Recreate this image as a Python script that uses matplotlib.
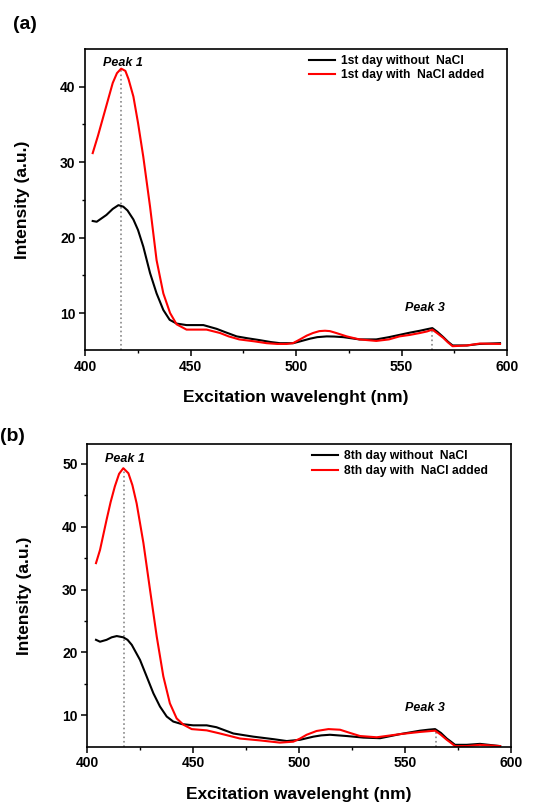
import matplotlib.pyplot as plt
import numpy as np

plt.rcParams['font.family'] = ['Liberation Sans', 'DejaVu Sans']
plt.rcParams['font.weight'] = 'bold'

# panel (a): 1st day
wl_a_black = [403.5, 405.4, 410, 413, 415.7, 418, 420, 422.8, 425, 427.5, 430.7, 433.8, 437, 440, 443.3,
              448, 456, 462.3, 466, 471.8, 477, 482.8, 488, 492.3, 498.6, 502, 506.6, 510, 514.5, 518,
              522.4, 530, 538, 544, 549, 554, 558.7, 562, 564.6, 567, 569.8, 572, 574.2, 581, 587, 596.7]
int_a_black = [22.2, 22.1, 23.0, 23.8, 24.3, 24.1, 23.6, 22.4, 21.0, 18.8, 15.3, 12.6, 10.4, 9.1, 8.6,
               8.4, 8.4, 7.9, 7.5, 6.9, 6.65, 6.4, 6.15, 6.0, 6.0, 6.25, 6.6, 6.8, 6.9, 6.88,
               6.8, 6.5, 6.5, 6.8, 7.1, 7.4, 7.65, 7.85, 8.0, 7.5, 6.8, 6.2, 5.7, 5.7, 5.9, 6.0]

wl_a_red = [403.5, 406, 410, 413, 415, 417, 419, 420.5, 422.8, 425, 427.5, 430.7, 433.8, 437, 440.2, 443.3,
            448, 457.5, 463.9, 468, 473, 480, 486, 491, 495.5, 498.5, 501.8, 505, 508, 511, 513.7, 516,
            519, 524, 530, 538, 544, 549, 554, 558.7, 562, 564.6, 567, 569.8, 572, 574.2, 581, 587, 596.7]
int_a_red = [31.2, 33.5, 37.5, 40.5, 41.8, 42.4, 42.1, 41.0, 38.7, 35.2, 30.7, 24.1, 17.0, 12.6, 10.0, 8.5,
             7.8, 7.8, 7.35, 6.9, 6.5, 6.25, 6.0, 5.9, 5.9, 6.0, 6.5, 7.0, 7.35, 7.6, 7.65, 7.6,
             7.35, 6.9, 6.5, 6.3, 6.5, 6.9, 7.1, 7.35, 7.55, 7.8, 7.3, 6.7, 6.1, 5.6, 5.7, 5.95, 5.9]

# panel (b): 8th day
wl_b_black = [404.1, 406, 409.1, 411.5, 413.9, 417, 419, 421, 424.9, 428, 431.2, 434.3, 437.5, 440.6, 444.6,
              450, 456.4, 461, 465, 469, 478.4, 487.9, 494.2, 500.5, 506.8, 510.5, 514.6, 522.5, 530.4,
              538.3, 547.7, 557.2, 561, 564.3, 567, 569.8, 571.8, 573.7, 579.2, 585.5, 595]
int_b_black = [22.0, 21.7, 22.0, 22.4, 22.6, 22.4, 22.0, 21.2, 18.8, 16.2, 13.5, 11.4, 9.8, 9.0, 8.6,
               8.4, 8.4, 8.1, 7.6, 7.1, 6.6, 6.2, 5.9, 6.1, 6.6, 6.8, 6.9, 6.7, 6.45,
               6.35, 7.0, 7.55, 7.7, 7.8, 7.2, 6.3, 5.8, 5.3, 5.3, 5.45, 5.1]

wl_b_red = [404.1, 406, 409.1, 411, 413, 415, 417, 419.4, 421.3, 423.3, 426.5, 429.6, 432.8, 435.9, 439, 442.2,
            445.4, 449.3, 456.4, 462.7, 472.1, 481.6, 491, 497.3, 500.5, 503.6, 508.3, 513.9, 519.4, 524,
            528.8, 536.7, 547.7, 557.2, 564.3, 567, 569.8, 571.8, 573.7, 579.2, 585.5, 595]
int_b_red = [34.2, 36.3, 41.1, 43.9, 46.4, 48.4, 49.3, 48.5, 46.6, 43.7, 37.4, 30.0, 22.5, 16.2, 11.9, 9.5,
             8.5, 7.8, 7.6, 7.1, 6.3, 6.0, 5.65, 5.8, 6.3, 6.9, 7.5, 7.8, 7.7, 7.2,
             6.7, 6.5, 7.0, 7.35, 7.55, 6.9, 6.1, 5.6, 5.1, 5.1, 5.3, 5.1]

peak1_a, peak3_a = 417, 564.6
peak1_b, peak3_b = 417.5, 564.7

fig = plt.figure(figsize=(5.39, 8.09), dpi=100)
ax_a = fig.add_axes([0.1583, 0.5674, 0.7823, 0.372])
ax_b = fig.add_axes([0.162, 0.077, 0.7855, 0.3738])

panels = [
    (ax_a, wl_a_black, int_a_black, wl_a_red, int_a_red, '1st day', (5.1, 45), [10, 20, 30, 40],
     peak1_a, 42.4, peak3_a, 8.0, (418, 43.1), (561, 10.7), '(a)', 0.024, 0.0306),
    (ax_b, wl_b_black, int_b_black, wl_b_red, int_b_red, '8th day', (5.0, 53.1), [10, 20, 30, 40, 50],
     peak1_b, 49.3, peak3_b, 7.8, (418, 50.8), (559.5, 11.1), '(b)', 0.0, 0.54),
]

for (ax, xb, yb, xr, yr, day, ylim, yt, p1, p1y, p3, p3y, t1, t3, tag, tagx, tagy) in panels:
    ax.plot([p1, p1], [ylim[0], p1y], color='#888888', ls=':', lw=1.2)
    ax.plot([p3, p3], [ylim[0], p3y], color='#888888', ls=':', lw=1.2)
    ax.plot(xb, yb, color='black', lw=1.5, label=day + ' without  NaCl')
    ax.plot(xr, yr, color='#ff0000', lw=1.5, label=day + ' with  NaCl added')
    ax.set_xlim(400, 600)
    ax.set_ylim(*ylim)
    ax.set_xticks([400, 450, 500, 550, 600])
    ax.set_xticks(np.arange(425, 600, 50), minor=True)
    ax.set_yticks(yt)
    ax.set_yticks(np.arange(15, ylim[1], 10), minor=True)
    ax.tick_params(which='major', direction='out', length=4, width=1.1, labelsize=10, pad=3)
    ax.tick_params(which='minor', direction='out', length=2.5, width=1.0)
    for lab in ax.get_xticklabels() + ax.get_yticklabels():
        lab.set_fontweight('bold')
    for sp in ax.spines.values():
        sp.set_linewidth(1.2)
    ax.set_xlabel('Excitation wavelenght (nm)', fontsize=12.5, fontweight='bold', labelpad=12)
    ax.set_ylabel('Intensity (a.u.)', fontsize=12.5, fontweight='bold', labelpad=22)
    ax.text(t1[0], t1[1], 'Peak 1', fontsize=9, fontweight='bold', style='italic', ha='center', va='center')
    ax.text(t3[0], t3[1], 'Peak 3', fontsize=9, fontweight='bold', style='italic', ha='center', va='center')
    leg = ax.legend(loc='upper right', bbox_to_anchor=(0.97, 1.012), frameon=False, fontsize=8.7,
                    handlelength=2.2, handletextpad=0.5, labelspacing=0.2, borderaxespad=0.4)
    for t in leg.get_texts():
        t.set_fontweight('bold')
    fig.text(tagx, 1 - tagy, tag, fontsize=14, fontweight='bold', va='center', ha='left')

fig.savefig('out.png', dpi=100)
